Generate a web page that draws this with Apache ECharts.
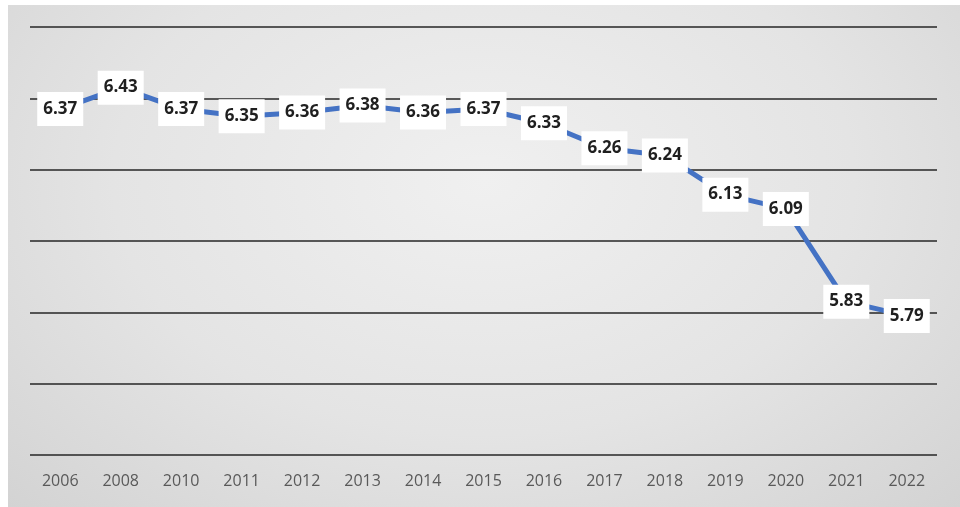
<!DOCTYPE html>
<html>
<head>
<meta charset="utf-8">
<script src="https://cdn.jsdelivr.net/npm/echarts@6/dist/echarts.min.js"></script>
<style>
  html, body { margin: 0; padding: 0; background: #ffffff; }
  #wrap { position: absolute; left: 0; top: 0; width: 960px; height: 507px; background: #ffffff; }
  #chart { position: absolute; left: 8px; top: 5px; width: 952px; height: 502px;
    background: radial-gradient(ellipse at 50% 35%, #f0f0f0 0%, #e4e4e4 55%, #d3d3d3 100%); }
</style>
</head>
<body>
<div id="wrap"><div id="chart"></div></div>
<script>
const categories = ['2006','2008','2010','2011','2012','2013','2014','2015','2016','2017','2018','2019','2020','2021','2022'];
const values = [6.37, 6.43, 6.37, 6.35, 6.36, 6.38, 6.36, 6.37, 6.33, 6.26, 6.24, 6.13, 6.09, 5.83, 5.79];
const yMin = 5.4, yMax = 6.6, yStep = 0.2;

const chart = echarts.init(document.getElementById('chart'), null, { renderer: 'canvas' });
chart.setOption({
  animation: false,
  backgroundColor: 'transparent',
  grid: { left: 22, right: 23, top: 22, bottom: 52 },
  xAxis: {
    type: 'category',
    data: categories,
    boundaryGap: true,
    axisLine: { show: false },
    axisTick: { show: false },
    axisLabel: { color: '#595959', fontSize: 16, fontFamily: 'Open Sans', margin: 18 }
  },
  yAxis: {
    type: 'value',
    min: yMin, max: yMax, interval: yStep,
    axisLabel: { show: false },
    axisLine: { show: false },
    axisTick: { show: false },
    splitLine: { lineStyle: { color: '#262626', width: 1.6 } }
  },
  series: [{
    type: 'line',
    data: values,
    symbol: 'circle',
    symbolSize: 2,
    showSymbol: true,
    itemStyle: { color: 'rgba(68,114,196,0)', borderWidth: 0 },
    lineStyle: { color: '#4472C4', width: 5 },
    label: {
      show: true,
      position: 'inside',
      formatter: p => p.value.toFixed(2),
      color: '#1f1f1f',
      fontSize: 17,
      fontWeight: 'bold',
      fontFamily: 'Open Sans',
      backgroundColor: '#ffffff',
      padding: [9, 6, 8, 6]
    },
    z: 3
  }]
});
</script>
</body>
</html>
